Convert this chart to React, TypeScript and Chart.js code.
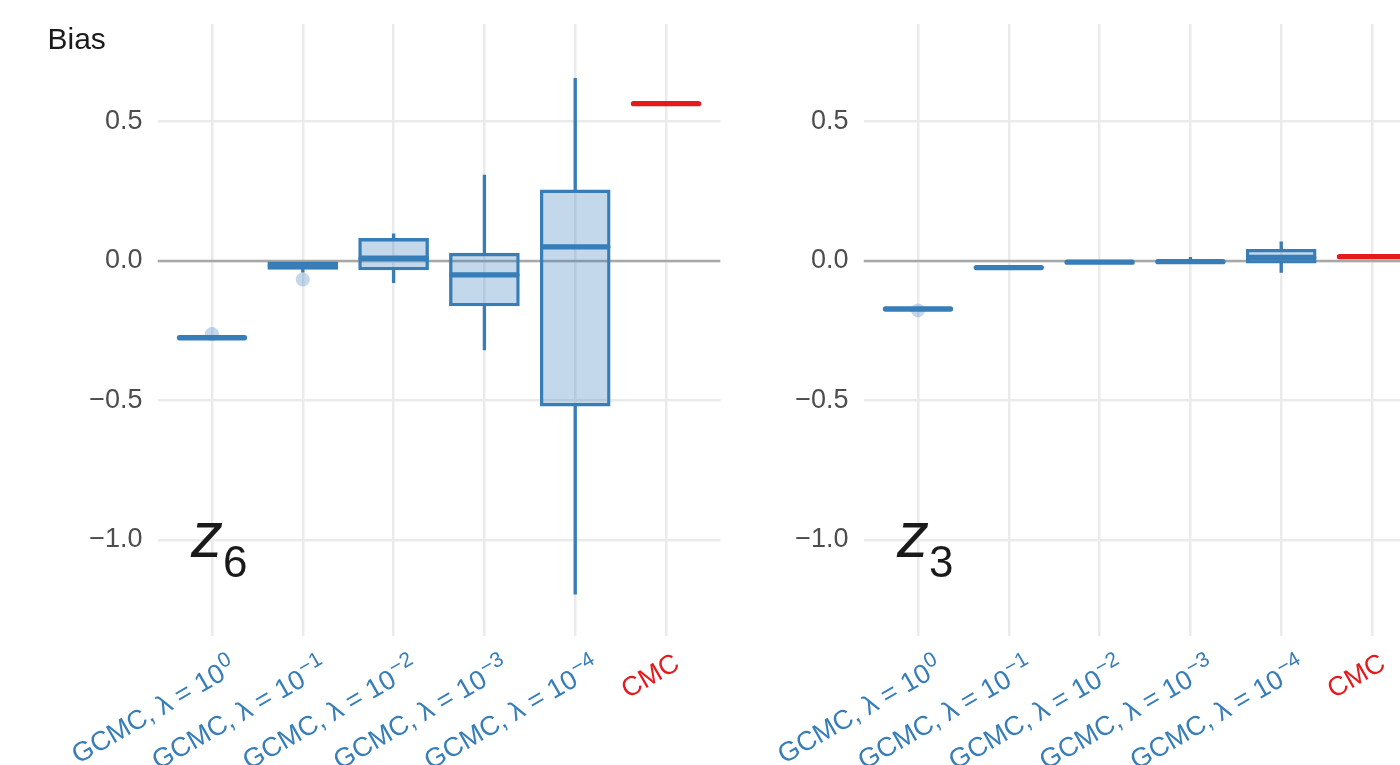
import React, { useEffect, useRef } from 'react';
import { Chart, registerables } from 'chart.js';

Chart.register(...registerables);

// ---------- data ----------
const categoryMain = ['GCMC, λ = 10', 'GCMC, λ = 10', 'GCMC, λ = 10', 'GCMC, λ = 10', 'GCMC, λ = 10', 'CMC'];
const categorySup = ['0', '−1', '−2', '−3', '−4', ''];
const categoryColors = ['#377EB8', '#377EB8', '#377EB8', '#377EB8', '#377EB8', '#E41A1C'];
const yTickValues = [-1.0, -0.5, 0.0, 0.5];
const yTitle = 'Bias';

// panel z6
const z6Median = [-0.275, -0.016, 0.010, -0.050, 0.051, 0.564];
const z6Q1 = [null, -0.030, -0.032, -0.161, -0.520, null];
const z6Q3 = [null, -0.003, 0.081, 0.028, 0.255, null];
const z6Lo = [null, -0.040, -0.078, -0.319, -1.194, null];
const z6Hi = [null, null, 0.097, 0.308, 0.655, null];
const z6OutCat = [1, 2];
const z6OutVal = [-0.262, -0.066];

// panel z3
const z3Median = [-0.172, -0.0235, -0.004, -0.0025, 0.013, 0.0155];
const z3Q1 = [null, null, null, null, -0.008, null];
const z3Q3 = [null, null, null, null, 0.042, null];
const z3Lo = [null, null, null, null, -0.0405, null];
const z3Hi = [null, null, null, 0.013, 0.069, null];
const z3OutCat = [1];
const z3OutVal = [-0.177];

// ---------- style / layout ----------
const FONT = '"Liberation Sans", Arial, Helvetica, sans-serif';
const BOX_FILL = 'rgba(55,126,184,0.3)';
const GRID = '#EBEBEB';
const Y_MIN = -1.344;
const Y_MAX = 0.8495;
const X_MIN = 0.4;
const X_MAX = 6.6;
const MEDIAN_DATASET = 5;

type Panel = {
  name: string;
  sub: string;
  median: number[];
  q1: (number | null)[];
  q3: (number | null)[];
  lo: (number | null)[];
  hi: (number | null)[];
  outCat: number[];
  outVal: number[];
};

const panelZ6: Panel = { name: 'z', sub: '6', median: z6Median, q1: z6Q1, q3: z6Q3, lo: z6Lo, hi: z6Hi, outCat: z6OutCat, outVal: z6OutVal };
const panelZ3: Panel = { name: 'z', sub: '3', median: z3Median, q1: z3Q1, q3: z3Q3, lo: z3Lo, hi: z3Hi, outCat: z3OutCat, outVal: z3OutVal };

function fmtTick(v: number) {
  const s = Math.abs(v).toFixed(1);
  return v < -1e-9 ? '\u2212' + s : s;
}

function buildConfig(p: Panel, yAxisWidth: number, padRight: number, showTitle: boolean): any {
  const idx = p.median.map((_, i) => i);
  const boxIdx = idx.filter((i) => p.q1[i] != null && p.q3[i] != null);
  const loIdx = idx.filter((i) => p.lo[i] != null);
  const hiIdx = idx.filter((i) => p.hi[i] != null);

  const decor = {
    id: 'decor',
    beforeDatasetDraw(chart: any, args: any) {
      if (args.index === MEDIAN_DATASET) chart.ctx.lineCap = 'round';
    },
    afterDatasetDraw(chart: any, args: any) {
      if (args.index === MEDIAN_DATASET) chart.ctx.lineCap = 'butt';
    },
    afterDraw(chart: any) {
      const ctx = chart.ctx;
      const xs = chart.scales.x;
      const ys = chart.scales.y;
      const area = chart.chartArea;
      // x labels
      for (let i = 0; i < categoryMain.length; i++) {
        const tx = xs.getPixelForValue(i + 1);
        ctx.save();
        ctx.fillStyle = categoryColors[i];
        ctx.textAlign = 'right';
        ctx.textBaseline = 'alphabetic';
        if (categorySup[i]) {
          ctx.translate(tx + 26, area.bottom + 36);
          ctx.rotate(-Math.PI / 6);
          ctx.font = `21px ${FONT}`;
          const w = ctx.measureText(categorySup[i]).width;
          ctx.fillText(categorySup[i], 0, -10.5);
          ctx.font = `27px ${FONT}`;
          ctx.fillText(categoryMain[i], -w - 1, 0);
        } else {
          ctx.translate(tx + 15, area.bottom + 32);
          ctx.rotate(-Math.PI / 6);
          ctx.font = `27px ${FONT}`;
          ctx.fillText(categoryMain[i], 0, 0);
        }
        ctx.restore();
      }
      // panel label
      ctx.save();
      ctx.fillStyle = '#1A1A1A';
      ctx.textAlign = 'left';
      ctx.textBaseline = 'alphabetic';
      const ax = xs.getPixelForValue(1);
      const ay = ys.getPixelForValue(-1);
      ctx.font = `italic 64px ${FONT}`;
      ctx.fillText(p.name, ax - 21, ay + 17);
      ctx.font = `44px ${FONT}`;
      ctx.fillText(p.sub, ax + 11, ay + 37);
      if (showTitle) {
        ctx.font = `30px ${FONT}`;
        ctx.fillText(yTitle, 47.5, 49.3);
      }
      ctx.restore();
    },
  };

  return {
    type: 'bar',
    data: {
      datasets: [
        {
          type: 'line',
          data: [{ x: X_MIN, y: 0 }, { x: X_MAX, y: 0 }],
          borderColor: '#A8A8A8',
          borderWidth: 2.7,
          pointRadius: 0,
          order: 10,
        },
        {
          type: 'scatter',
          data: p.outCat.map((c, k) => ({ x: c, y: p.outVal[k] })),
          pointRadius: 7,
          pointBackgroundColor: BOX_FILL,
          pointBorderWidth: 0,
          order: 9,
        },
        {
          type: 'bar',
          data: loIdx.map((i) => ({ x: i + 1, y: [p.lo[i], p.q1[i] ?? p.median[i]] })),
          backgroundColor: loIdx.map((i) => categoryColors[i]),
          borderWidth: 0,
          barThickness: 2.7,
          grouped: false,
          order: 8,
        },
        {
          type: 'bar',
          data: hiIdx.map((i) => ({ x: i + 1, y: [p.q3[i] ?? p.median[i], p.hi[i]] })),
          backgroundColor: hiIdx.map((i) => categoryColors[i]),
          borderWidth: 0,
          barThickness: 2.7,
          grouped: false,
          order: 8,
        },
        {
          type: 'bar',
          data: boxIdx.map((i) => ({ x: i + 1, y: [p.q1[i], p.q3[i]] })),
          backgroundColor: BOX_FILL,
          borderColor: boxIdx.map((i) => categoryColors[i]),
          borderWidth: 2.7,
          borderSkipped: false,
          barThickness: 70,
          grouped: false,
          order: 7,
        },
        {
          type: 'scatter',
          data: idx.map((i) => ({ x: i + 1, y: p.median[i] })),
          pointStyle: 'line',
          pointRadius: 32.5,
          pointBorderWidth: 5.3,
          pointBorderColor: idx.map((i) => categoryColors[i]),
          pointBackgroundColor: idx.map((i) => categoryColors[i]),
          order: 6,
        },
      ],
    },
    options: {
      responsive: false,
      animation: false,
      devicePixelRatio: 1,
      events: [],
      layout: { autoPadding: false, padding: { left: 0, top: 24, right: padRight, bottom: 0 } },
      plugins: { legend: { display: false }, tooltip: { enabled: false } },
      scales: {
        x: {
          type: 'linear',
          min: X_MIN,
          max: X_MAX,
          offset: false,
          afterBuildTicks: (s: any) => {
            s.ticks = categoryMain.map((_, i) => ({ value: i + 1 }));
          },
          afterFit: (s: any) => {
            s.height = 129;
            s.paddingLeft = 0;
            s.paddingRight = 0;
          },
          ticks: { display: false },
          grid: { color: GRID, lineWidth: 2.5, drawTicks: false, offset: false },
          border: { display: false },
        },
        y: {
          type: 'linear',
          min: Y_MIN,
          max: Y_MAX,
          afterBuildTicks: (s: any) => {
            s.ticks = yTickValues.map((v) => ({ value: v }));
          },
          afterFit: (s: any) => {
            s.width = yAxisWidth;
            s.paddingTop = 0;
            s.paddingBottom = 0;
          },
          ticks: {
            padding: 15,
            color: '#4D4D4D',
            font: { size: 27, family: FONT },
            callback: (v: number) => fmtTick(v),
          },
          grid: { color: GRID, lineWidth: 2.5, drawTicks: false },
          border: { display: false },
        },
      },
    },
    plugins: [decor],
  };
}

function PanelChart(props: { panel: Panel; left: number; width: number; yAxisWidth: number; padRight: number; showTitle: boolean }) {
  const ref = useRef<HTMLCanvasElement | null>(null);
  useEffect(() => {
    if (!ref.current) return;
    const chart = new Chart(ref.current, buildConfig(props.panel, props.yAxisWidth, props.padRight, props.showTitle));
    return () => chart.destroy();
  }, []);
  return (
    <canvas
      ref={ref}
      width={props.width}
      height={765}
      style={{ position: 'absolute', left: props.left, top: 0, width: props.width, height: 765 }}
    />
  );
}

export default function App() {
  return (
    <div style={{ position: 'fixed', left: 0, top: 0, width: 1400, height: 765, overflow: 'hidden', background: '#FFFFFF' }}>
      <PanelChart panel={panelZ6} left={0} width={760} yAxisWidth={157.5} padRight={39.5} showTitle={true} />
      <PanelChart panel={panelZ3} left={760} width={700} yAxisWidth={103.5} padRight={33.5} showTitle={false} />
    </div>
  );
}
